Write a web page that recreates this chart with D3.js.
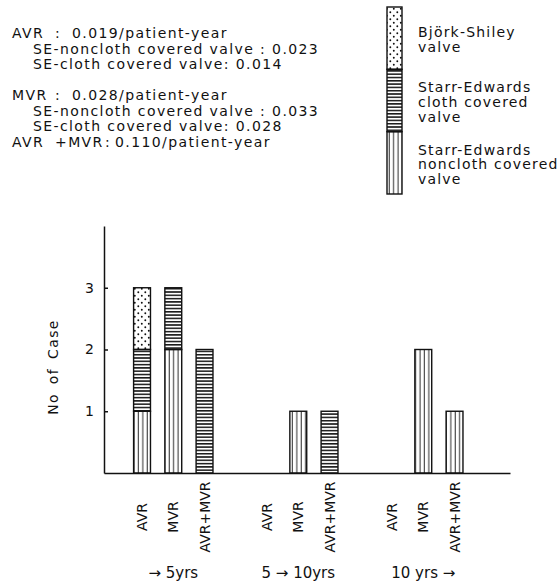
<!DOCTYPE html>
<html>
<head>
<meta charset="utf-8">
<script src="https://cdn.jsdelivr.net/npm/d3@7"></script>
<style>
  body { margin: 0; background: #fff; }
  text { font-family: "DejaVu Sans", sans-serif; fill: #111; }
</style>
</head>
<body>
<svg id="chart"></svg>
<script>
// values
const groups = ["lt5", "5to10", "gt10"];
const groupLabels = ["\u2192 5yrs", "5 \u2192 10yrs", "10 yrs \u2192"];
const procedures = ["AVR", "MVR", "AVR+MVR"];
const keys = ["noncloth", "cloth", "bjork"];
const noncloth = [1, 2, 0, 0, 1, 0, 0, 2, 1];
const cloth = [1, 1, 2, 0, 0, 1, 0, 0, 0];
const bjork = [1, 0, 0, 0, 0, 0, 0, 0, 0];
const yTicks = [1, 2, 3];
const yMax = 4;

const notes = [
    ["AVR", ":", "0.019/patient-year"],
    ["SE-noncloth covered valve : 0.023"],
    ["SE-cloth covered valve: 0.014"],
    null,
    ["MVR", ":", "0.028/patient-year"],
    ["SE-noncloth covered valve : 0.033"],
    ["SE-cloth covered valve: 0.028"],
    ["AVR", "+MVR", ":", "0.110/patient-year"]
];
const legendLabels = {
    bjork: ["Björk-Shiley", "valve"],
    cloth: ["Starr-Edwards", "cloth covered", "valve"],
    noncloth: ["Starr-Edwards", "noncloth covered", "valve"]
};

const width = 559, height = 588;
const svg = d3.select("#chart").attr("width", width).attr("height", height);

// hatch patterns
const defs = svg.append("defs");
const pv = defs.append("pattern").attr("id", "pat-noncloth")
    .attr("patternUnits", "userSpaceOnUse").attr("width", 4.4).attr("height", 10);
pv.append("line").attr("x1", 2).attr("x2", 2).attr("y1", 0).attr("y2", 10)
    .attr("stroke", "#111").attr("stroke-width", 0.9);
const ph = defs.append("pattern").attr("id", "pat-cloth")
    .attr("patternUnits", "userSpaceOnUse").attr("width", 10).attr("height", 3.3);
ph.append("line").attr("x1", 0).attr("x2", 10).attr("y1", 1.6).attr("y2", 1.6)
    .attr("stroke", "#111").attr("stroke-width", 1.5);
const pd = defs.append("pattern").attr("id", "pat-bjork")
    .attr("patternUnits", "userSpaceOnUse").attr("width", 7).attr("height", 7);
pd.append("circle").attr("cx", 1.8).attr("cy", 1.8).attr("r", 0.95).attr("fill", "#111");
pd.append("circle").attr("cx", 5.3).attr("cy", 5.3).attr("r", 0.95).attr("fill", "#111");

// notes top-left
const noteX = [12, 55, 72];
const noteXLast = [12, 55, 105, 115];
notes.forEach(function(line, i) {
    if (!line) return;
    const y = 38 + i * 15.5;
    const t = svg.append("text").attr("font-size", 14).attr("letter-spacing", 1.4).attr("y", y);
    if (line.length === 1) {
        t.attr("x", 33).text(line[0]);
    } else {
        const xs = line.length === 4 ? noteXLast : noteX;
        line.forEach(function(part, j) {
            t.append("tspan").attr("x", xs[j]).text(part);
        });
    }
});

// scales
const y = d3.scaleLinear().domain([0, yMax]).range([473, 226]);
const x0 = d3.scaleBand().domain(groups).range([104, 510])
    .paddingInner(0.25).paddingOuter(0.249).align(0.36);
const x1 = d3.scaleBand().domain(procedures).range([0, x0.bandwidth()])
    .paddingInner(0.46).paddingOuter(0.23);

const rows = [];
groups.forEach(function(g, gi) {
    procedures.forEach(function(p, pi) {
        const k = gi * procedures.length + pi;
        rows.push({group: g, proc: p, noncloth: noncloth[k], cloth: cloth[k], bjork: bjork[k]});
    });
});
const stacked = d3.stack().keys(keys)(rows);

// bars
stacked.forEach(function(layer) {
    svg.append("g").selectAll("rect")
        .data(layer)
        .join("rect")
        .attr("x", d => x0(d.data.group) + x1(d.data.proc))
        .attr("y", d => y(d[1]))
        .attr("width", x1.bandwidth())
        .attr("height", d => y(d[0]) - y(d[1]))
        .attr("fill", "url(#pat-" + layer.key + ")")
        .attr("stroke", "#111")
        .attr("stroke-width", 1.4);
});

// axes
svg.append("g")
    .attr("transform", "translate(104,0)")
    .call(d3.axisLeft(y).tickValues(yTicks).tickSize(-4).tickSizeOuter(0).tickPadding(10).tickFormat(d3.format("d")))
    .call(g => g.selectAll("path,line").attr("stroke", "#111").attr("stroke-width", 1.5))
    .call(g => g.selectAll("text").attr("font-size", 14).attr("font-family", "DejaVu Sans").attr("fill", "#111"));

svg.append("g")
    .attr("transform", "translate(0," + y(0) + ")")
    .call(d3.axisBottom(x0).tickSize(0).tickSizeOuter(0).tickFormat(""))
    .call(g => g.select(".domain").attr("stroke", "#111").attr("stroke-width", 1.5));

svg.append("text")
    .attr("transform", "translate(58,367) rotate(-90)")
    .attr("text-anchor", "middle")
    .attr("font-size", 14)
    .attr("letter-spacing", 1.4)
    .attr("word-spacing", 3)
    .text("No of Case");

// category labels
rows.forEach(function(d) {
    const cx = x0(d.group) + x1(d.proc) + x1.bandwidth() / 2;
    svg.append("text")
        .attr("transform", "translate(" + (cx + 5) + ",517) rotate(-90)")
        .attr("text-anchor", "middle")
        .attr("font-size", 14)
        .text(d.proc);
});
groups.forEach(function(g, i) {
    svg.append("text")
        .attr("x", x0(g) + x0.bandwidth() / 2)
        .attr("y", 578)
        .attr("text-anchor", "middle")
        .attr("font-size", 15)
        .text(groupLabels[i]);
});

// legend
const legendOrder = ["bjork", "cloth", "noncloth"];
const legY = d3.scaleBand().domain(legendOrder).range([7, 194]);
legendOrder.forEach(function(k) {
    svg.append("rect")
        .attr("x", 387).attr("y", legY(k))
        .attr("width", 15).attr("height", legY.bandwidth())
        .attr("fill", "url(#pat-" + k + ")")
        .attr("stroke", "#111").attr("stroke-width", 1.4);
    const t = svg.append("text").attr("font-size", 14).attr("letter-spacing", 1.2);
    const lines = legendLabels[k];
    const startY = k === "bjork" ? legY(k) + 30 : legY(k) + 23;
    lines.forEach(function(s, j) {
        t.append("tspan").attr("x", 418).attr("y", startY + j * 14.8).text(s);
    });
});
</script>
</body>
</html>
